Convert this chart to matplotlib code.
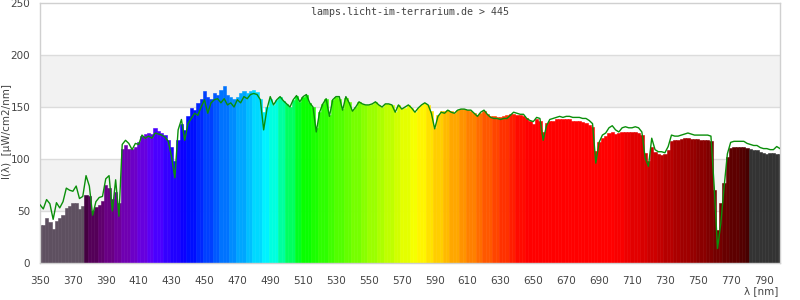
import numpy as np
import matplotlib
matplotlib.use("Agg")
import matplotlib.pyplot as plt

# Wavelengths (nm), 2 nm steps
wavelengths = list(range(350, 801, 2))

# Filled spectrum (µW/cm2/nm)
fill_values = [
    37, 37, 43, 39, 33, 40, 43, 46, 53, 55, 58, 58, 52, 55, 65,           # 350-378
    64, 50, 54, 56, 60, 75, 72, 62, 68, 58,                               # 380-398
    110, 113, 110, 110, 112, 116, 122, 124, 125, 124,                     # 400-418
    130, 127, 125, 123, 118, 112, 98, 118, 134, 128,                      # 420-438
    141, 149, 147, 154, 158, 165, 160, 158, 163, 162,                     # 440-458
    166, 170, 162, 160, 158, 160, 163, 165, 163, 165,                     # 460-478
    166, 164, 158, 145, 150, 158, 152, 157, 160, 156,                     # 480-498
    153, 150, 157, 161, 155, 160, 162, 154, 150, 130,                     # 500-518
    145, 153, 158, 142, 157, 160, 158, 148, 159, 155,                     # 520-538
    147, 150, 155, 153, 152, 152, 153, 155, 152, 150,                     # 540-558
    153, 153, 152, 145, 152, 148, 149, 152, 149, 145,                     # 560-578
    149, 152, 154, 152, 146, 130, 142, 146, 146, 147,                     # 580-598
    146, 144, 147, 148, 148, 147, 146, 144, 142, 144,                     # 600-618
    146, 143, 141, 141, 140, 140, 141, 142, 143, 143,                     # 620-638
    142, 142, 141, 139, 137, 134, 138, 137, 126, 135,                     # 640-658
    137, 137, 138, 138, 138, 138, 138, 137, 137, 137,                     # 660-678
    136, 135, 133, 131, 108, 116, 120, 122, 125, 126,                     # 680-698
    124, 125, 126, 126, 126, 126, 126, 125, 123, 106,                     # 700-718
    98, 112, 107, 105, 104, 105, 109, 117, 118, 118,                      # 720-738
    119, 120, 120, 119, 119, 119, 118, 118, 118, 117,                     # 740-758
    70, 32, 58, 77, 102, 111, 112, 112, 112, 112,                         # 760-778
    111, 110, 109, 109, 107, 106, 105, 106, 106, 105, 105,                # 780-800
]

# Reference line (µW/cm2/nm)
line_values = [
    56, 52, 61, 57, 42, 58, 53, 59, 72, 70, 69, 74, 62, 64, 84,           # 350-378
    74, 46, 59, 63, 64, 81, 84, 50, 80, 45,                               # 380-398
    114, 118, 115, 109, 115, 114, 123, 120, 122, 120,                     # 400-418
    125, 124, 123, 121, 117, 102, 82, 128, 138, 118,                      # 420-438
    134, 139, 144, 142, 150, 157, 144, 154, 157, 158,                     # 440-458
    154, 158, 152, 154, 150, 157, 154, 160, 158, 162,                     # 460-478
    163, 162, 157, 128, 148, 160, 152, 157, 160, 156,                     # 480-498
    153, 150, 157, 161, 155, 160, 162, 154, 150, 126,                     # 500-518
    145, 153, 158, 141, 157, 160, 160, 147, 160, 154,                     # 520-538
    146, 150, 155, 153, 152, 152, 153, 155, 152, 150,                     # 540-558
    153, 153, 152, 145, 152, 148, 150, 152, 149, 145,                     # 560-578
    149, 152, 154, 152, 144, 129, 141, 145, 144, 147,                     # 580-598
    145, 144, 147, 148, 148, 147, 147, 144, 141, 145,                     # 600-618
    147, 143, 140, 139, 139, 138, 139, 139, 142, 145,                     # 620-638
    144, 143, 143, 139, 137, 136, 140, 139, 118, 132,                     # 640-658
    138, 139, 140, 141, 140, 141, 141, 140, 140, 140,                     # 660-678
    139, 139, 137, 134, 96, 116, 123, 125, 130, 132,                      # 680-698
    128, 126, 130, 131, 130, 130, 131, 130, 126, 101,                     # 700-718
    93, 120, 109, 107, 107, 106, 112, 123, 122, 122,                      # 720-738
    123, 124, 125, 124, 123, 123, 123, 123, 123, 122,                     # 740-758
    73, 14, 38, 73, 105, 116, 117, 117, 117, 117,                         # 760-778
    115, 114, 113, 113, 111, 110, 110, 109, 109, 112, 110,                # 780-800
]

x_ticks = list(range(350, 791, 20))
y_ticks = [0, 50, 100, 150, 200, 250]
title_text = "lamps.licht-im-terrarium.de > 445"


def wl_color(wl):
    if wl < 378:
        return "#5e5060"
    if wl >= 782:
        return "#333333"
    w = (wl // 5) * 5 + 2.5
    if w < 440:
        r, g, b = (440 - w) / 60, 0.0, 1.0
    elif w < 490:
        r, g, b = 0.0, (w - 440) / 50, 1.0
    elif w < 510:
        r, g, b = 0.0, 1.0, (510 - w) / 20
    elif w < 580:
        r, g, b = (w - 510) / 70, 1.0, 0.0
    elif w < 645:
        r, g, b = 1.0, (645 - w) / 65, 0.0
    else:
        r, g, b = 1.0, 0.0, 0.0
    if w < 420:
        f = 0.3 + 0.7 * (w - 380) / 40
    elif w <= 700:
        f = 1.0
    else:
        f = 0.3 + 0.7 * (780 - w) / 80
    return (r * f, g * f, b * f)


fig = plt.figure(figsize=(8, 3), dpi=100)
ax = fig.add_axes([0.05, 0.1233, 0.925, 0.8667])

# background bands
for lo, hi in [(50, 100), (150, 200)]:
    ax.axhspan(lo, hi, color="#f2f2f2", zorder=0, lw=0)
for yv in [50, 100, 150, 200]:
    ax.axhline(yv, color="#dcdcdc", lw=1, zorder=0.5)

colors = [wl_color(w) for w in wavelengths]
ax.bar(wavelengths, fill_values, width=2, color=colors, edgecolor=colors,
       linewidth=0.4, zorder=2)
ax.plot(wavelengths, line_values, color="#0a8f0a", lw=1.0, zorder=3)

ax.set_xlim(350, 800)
ax.set_ylim(0, 250)
ax.set_xticks(x_ticks)
ax.set_yticks(y_ticks)
ax.tick_params(length=0, labelsize=7.5, labelcolor="#444444")
ax.tick_params(axis="x", pad=9)
ax.tick_params(axis="y", pad=7)
for s in ax.spines.values():
    s.set_color("#d0d0d0")
    s.set_linewidth(1)

ax.text(0.5, 0.985, title_text, transform=ax.transAxes, ha="center", va="top",
        family="DejaVu Sans Mono", fontsize=7.2, color="#444444")
fig.text(0.009, 0.56, "I(λ)  [µW/cm2/nm]", rotation=90, ha="center", va="center",
         fontsize=7.5, color="#444444")
fig.text(0.973, 0.012, "λ [nm]", ha="right", va="bottom", fontsize=7.5, color="#444444")

fig.savefig("out.png", dpi=100)
